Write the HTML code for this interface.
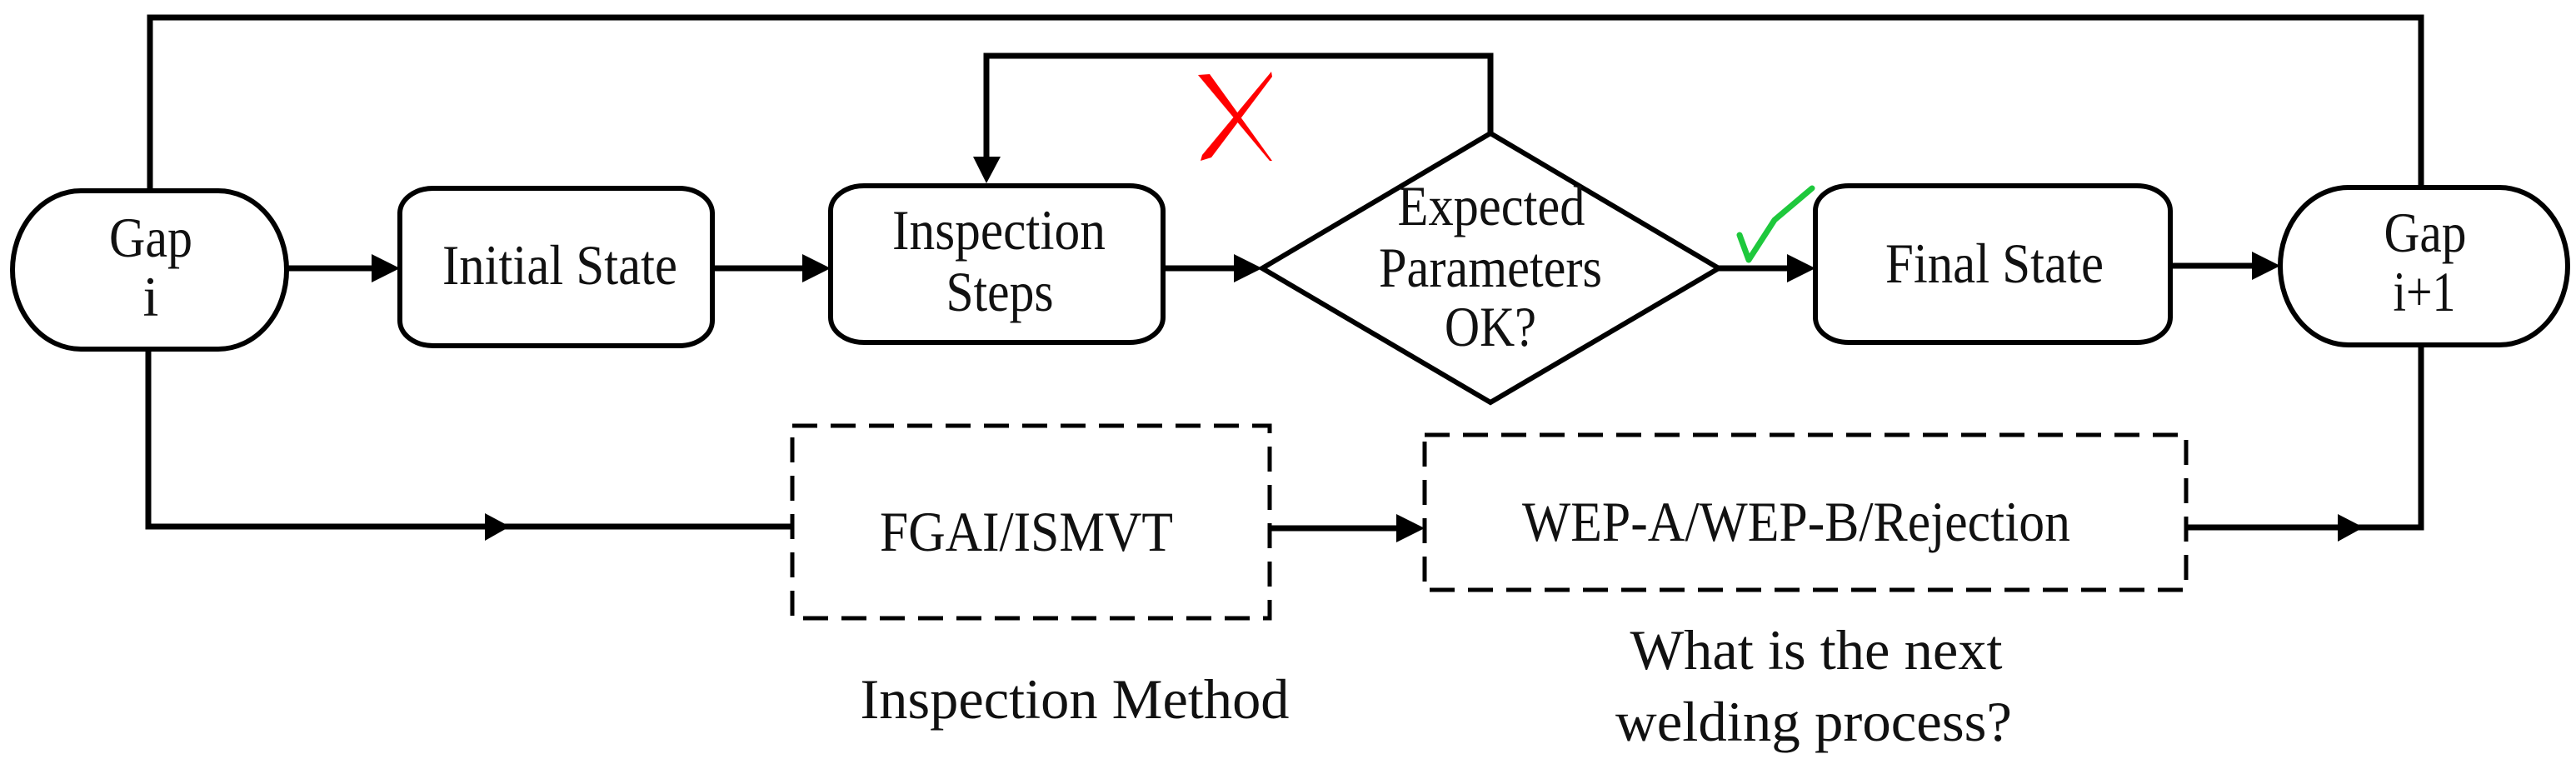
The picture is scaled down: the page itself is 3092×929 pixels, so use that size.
<!DOCTYPE html>
<html><head><meta charset="utf-8"><style>
html,body{margin:0;padding:0;background:#fff}
svg{display:block}
text{font-family:"Liberation Serif",serif;font-size:68px;fill:#111}
</style></head><body>
<svg width="3092" height="929" viewBox="0 0 3092 929" xmlns="http://www.w3.org/2000/svg">
<g fill="none" stroke="#000" stroke-width="7">
<polyline points="180,229 180,21 2906,21 2906,225"/>
<polyline points="1789,160 1789,67 1184,67 1184,195"/>
<polyline points="178,419 178,632 951,632"/>
<polyline points="2624,633 2906,633 2906,414"/>
<line x1="344" y1="322" x2="455" y2="322"/>
<line x1="855" y1="322" x2="965" y2="322"/>
<line x1="1396" y1="322" x2="1490" y2="322"/>
<line x1="2063" y1="322" x2="2150" y2="322"/>
<line x1="2605" y1="319" x2="2705" y2="319"/>
<line x1="1524" y1="634" x2="1685" y2="634"/>
<rect x="15" y="229" width="329" height="190" rx="82" ry="95" stroke-width="6"/>
<rect x="480" y="226" width="375" height="189" rx="40" ry="30" stroke-width="6"/>
<rect x="997" y="223" width="399" height="188" rx="40" ry="30" stroke-width="6"/>
<polygon points="1789,160 2063,322 1789,483 1515,322" stroke-width="6"/>
<rect x="2179" y="223" width="426" height="188" rx="40" ry="30" stroke-width="6"/>
<rect x="2737" y="225" width="345" height="189" rx="82" ry="95" stroke-width="6"/>
<rect x="951" y="511" width="573" height="231" stroke-width="5" stroke-dasharray="30 16"/>
<rect x="1710" y="522" width="914" height="186" stroke-width="5" stroke-dasharray="30 16"/>
</g>
<g fill="#000">
<polygon points="446,305 480,322 446,339"/>
<polygon points="963,305 997,322 963,339"/>
<polygon points="1481,305 1515,322 1481,339"/>
<polygon points="2145,305 2179,322 2145,339"/>
<polygon points="2703,302 2737,319 2703,336"/>
<polygon points="1168,188 1201,188 1184,220"/>
<polygon points="582,616 612,632 582,649"/>
<polygon points="1676,617 1710,634 1676,651"/>
<polygon points="2806,617 2837,633 2806,650"/>
</g>
<!-- red X -->
<polygon fill="#f00" points="1526,86 1527,92 1454,189 1441,193 1443,186"/>
<polygon fill="#f00" points="1438,90 1452,89 1527,193 1524,193"/>
<!-- check -->
<polyline points="2088,282 2099,312 2130,264 2175,226" fill="none" stroke="#1ec83c" stroke-width="7" stroke-linecap="round" stroke-linejoin="round"/>
<g text-anchor="middle">
<text x="181" y="308" textLength="100" lengthAdjust="spacingAndGlyphs">Gap</text>
<text x="181" y="379">i</text>
<text x="672" y="341" textLength="282" lengthAdjust="spacingAndGlyphs">Initial State</text>
<text x="1199" y="299" textLength="256" lengthAdjust="spacingAndGlyphs">Inspection</text>
<text x="1200" y="373" textLength="129" lengthAdjust="spacingAndGlyphs">Steps</text>
<text x="1790" y="270" textLength="225" lengthAdjust="spacingAndGlyphs">Expected</text>
<text x="1789" y="344" textLength="268" lengthAdjust="spacingAndGlyphs">Parameters</text>
<text x="1789" y="415" textLength="110" lengthAdjust="spacingAndGlyphs">OK?</text>
<text x="2394" y="339" textLength="262" lengthAdjust="spacingAndGlyphs">Final State</text>
<text x="2911" y="302" textLength="99" lengthAdjust="spacingAndGlyphs">Gap</text>
<text x="2910" y="373" textLength="75" lengthAdjust="spacingAndGlyphs">i+1</text>
<text x="1232" y="661" textLength="352" lengthAdjust="spacingAndGlyphs">FGAI/ISMVT</text>
<text x="2156" y="649" textLength="658" lengthAdjust="spacingAndGlyphs">WEP-A/WEP-B/Rejection</text>
<text x="1290" y="862" textLength="515" lengthAdjust="spacingAndGlyphs">Inspection Method</text>
<text x="2180" y="803" textLength="447" lengthAdjust="spacingAndGlyphs">What is the next</text>
<text x="2177" y="889" textLength="476" lengthAdjust="spacingAndGlyphs">welding process?</text>
</g>
</svg>
</body></html>
